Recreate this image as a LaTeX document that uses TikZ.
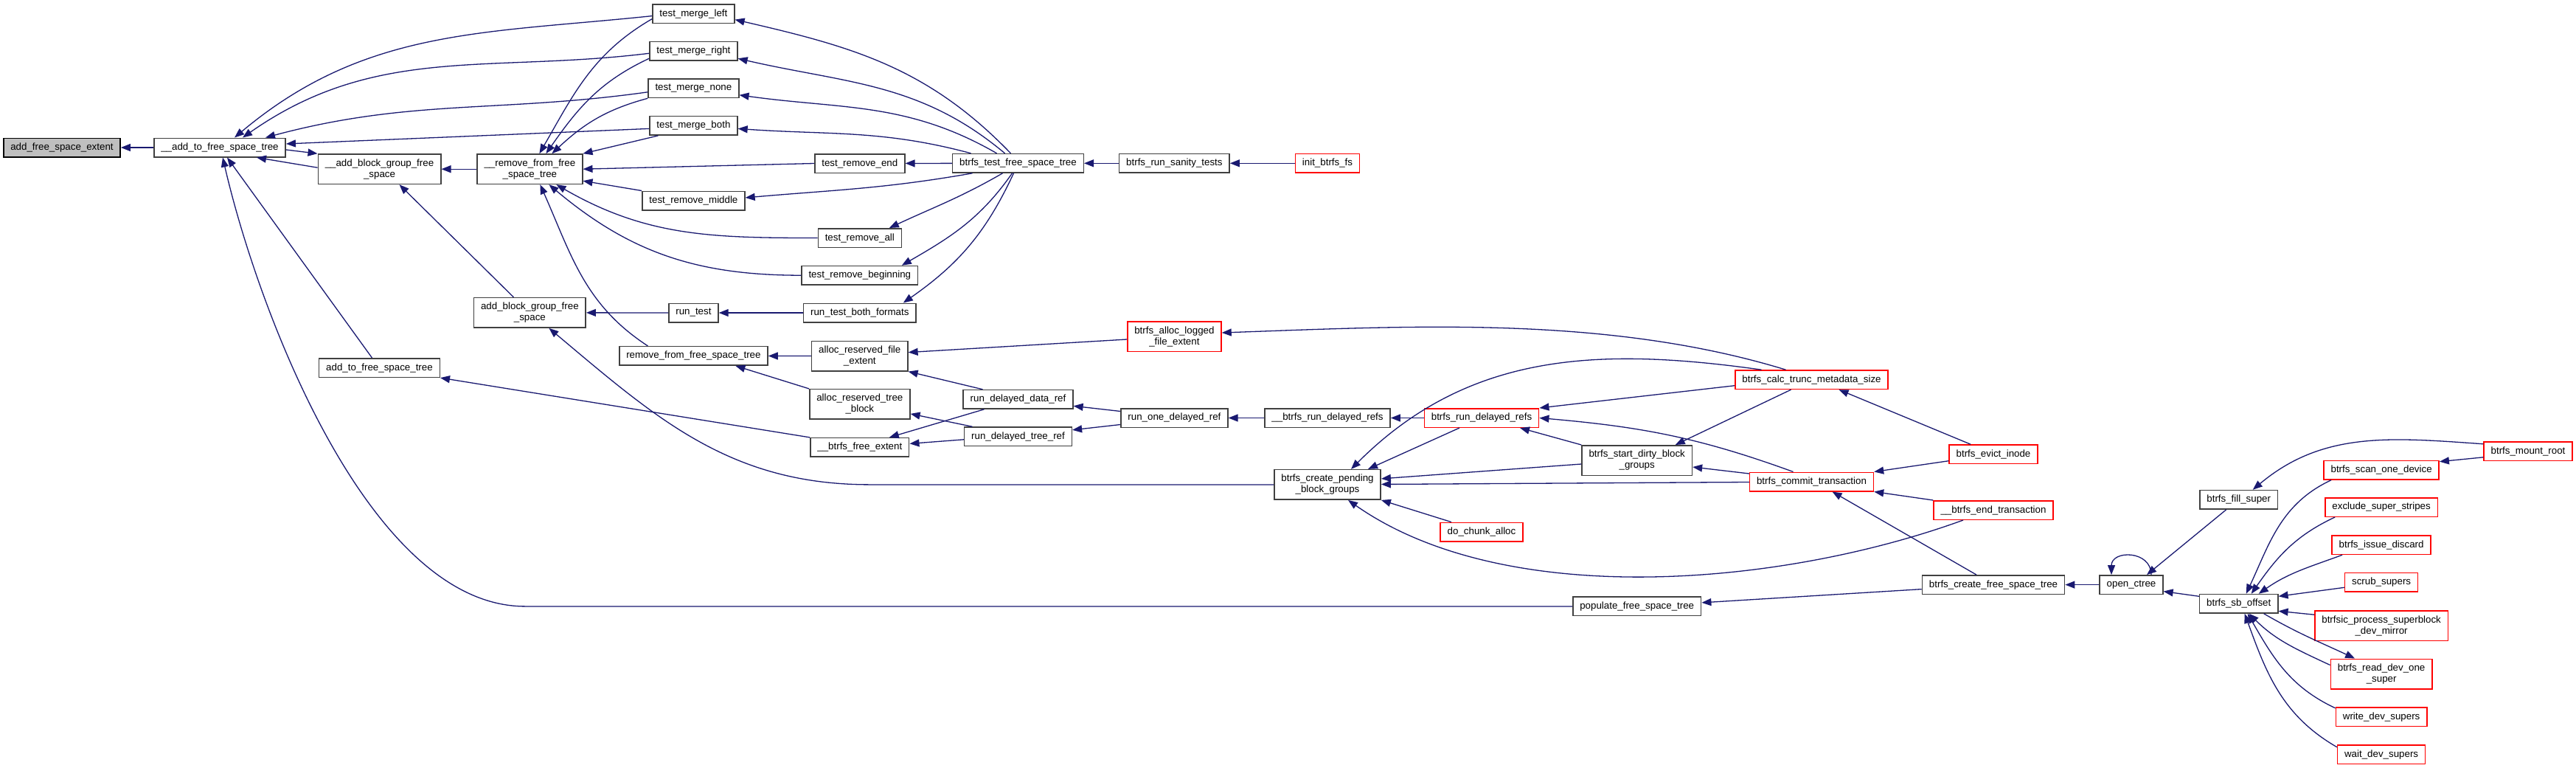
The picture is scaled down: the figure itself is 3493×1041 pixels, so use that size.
\documentclass[tikz,border=0pt]{standalone}
\usepackage{fontspec}
\setmainfont{Liberation Sans}
\usetikzlibrary{arrows.meta}
\definecolor{DoxEdge}{RGB}{25,25,112}
\definecolor{DoxLine}{RGB}{64,64,64}
\definecolor{DoxRed}{RGB}{255,0,0}
\definecolor{DoxRoot}{RGB}{191,191,191}

\begin{document}
\begin{tikzpicture}[x=1pt, y=1pt,
          fn/.style={rectangle, draw=DoxLine, line width=1.5pt, fill=white,
                     minimum height=25.5pt, inner xsep=9.5pt, inner ysep=1pt,
                     align=center, font=\fontsize{13.33}{15}\selectfont},
          fn2/.style={fn, minimum height=40.5pt},
          fnred/.style={fn, draw=DoxRed},
          fnred2/.style={fn2, draw=DoxRed},
          fnroot/.style={fn, draw=black, fill=DoxRoot},
          call/.style={-{Triangle[length=13pt,width=10pt]}, draw=DoxEdge, line width=1.3pt}
        ]
        \useasboundingbox (0,0) rectangle (3493,-1041);

        % free-space-tree side
        \node[fnroot] (afse) at (84,-200) {add\_free\_space\_extent};
        \node[fn]  (aft)  at (298,-200) {\_\_add\_to\_free\_space\_tree};
        \node[fn2] (abg)  at (514.5,-229.2) {\_\_add\_block\_group\_free\\\_space};
        \node[fn]  (atf)  at (514.5,-498.6) {add\_to\_free\_space\_tree};
        \node[fn2] (rmf)  at (718.4,-229.2) {\_\_remove\_from\_free\\\_space\_tree};
        \node[fn2] (abgf) at (718.4,-423.8) {add\_block\_group\_free\\\_space};
        \node[fn]  (tml)  at (940.4,-18.6) {test\_merge\_left};
        \node[fn]  (tmr)  at (940.4,-69.3) {test\_merge\_right};
        \node[fn]  (tmn)  at (940.4,-119.8) {test\_merge\_none};
        \node[fn]  (tmb)  at (940.4,-170.4) {test\_merge\_both};
        \node[fn]  (trm)  at (940.4,-272) {test\_remove\_middle};
        \node[fn]  (rt)   at (940.4,-424) {run\_test};
        \node[fn]  (rffst) at (940.4,-482.4) {remove\_from\_free\_space\_tree};
        \node[fn]  (tre)  at (1165.8,-221.5) {test\_remove\_end};
        \node[fn]  (tra)  at (1165.8,-322.5) {test\_remove\_all};
        \node[fn]  (trb)  at (1165.8,-373.2) {test\_remove\_beginning};
        \node[fn]  (rtbf) at (1165.8,-424) {run\_test\_both\_formats};
        \node[fn2] (arfe) at (1165.8,-482.6) {alloc\_reserved\_file\\\_extent};
        \node[fn2] (artb) at (1165.8,-547.9) {alloc\_reserved\_tree\\\_block};
        \node[fn]  (bfe)  at (1165.8,-606.4) {\_\_btrfs\_free\_extent};

        % tests and delayed refs
        \node[fn]  (btfst) at (1380.5,-221.3) {btrfs\_test\_free\_space\_tree};
        \node[fn]  (rddr) at (1380.5,-541.3) {run\_delayed\_data\_ref};
        \node[fn]  (rdtr) at (1380.5,-591.8) {run\_delayed\_tree\_ref};
        \node[fn]  (rst)  at (1592.4,-221.3) {btrfs\_run\_sanity\_tests};
        \node[fnred2] (alfe) at (1592.4,-456) {btrfs\_alloc\_logged\\\_file\_extent};
        \node[fn]  (rodr) at (1592.4,-566.5) {run\_one\_delayed\_ref};
        \node[fnred] (ibf) at (1800,-221.3) {init\_btrfs\_fs};
        \node[fn]  (ubrdr) at (1800,-566.5) {\_\_btrfs\_run\_delayed\_refs};
        \node[fn2] (cpbg) at (1800,-656.9) {btrfs\_create\_pending\\\_block\_groups};
        \node[fnred] (brdr) at (2009,-566.5) {btrfs\_run\_delayed\_refs};
        \node[fnred] (dca) at (2009,-721.1) {do\_chunk\_alloc};
        \node[fn2] (sdbg) at (2219.7,-624) {btrfs\_start\_dirty\_block\\\_groups};
        \node[fn]  (pfst) at (2219.7,-821.9) {populate\_free\_space\_tree};

        % transactions
        \node[fnred] (ctms) at (2456.5,-514.7) {btrfs\_calc\_trunc\_metadata\_size};
        \node[fnred] (ctr) at (2456.5,-653) {btrfs\_commit\_transaction};
        \node[fnred] (evi) at (2703,-615.7) {btrfs\_evict\_inode};
        \node[fnred] (etr) at (2703,-691.5) {\_\_btrfs\_end\_transaction};
        \node[fn]  (cfst) at (2703,-792.6) {btrfs\_create\_free\_space\_tree};

        % mount and super blocks
        \node[fn]  (oct)  at (2890,-792.6) {open\_ctree};
        \node[fn]  (fsup) at (3035.7,-677.3) {btrfs\_fill\_super};
        \node[fn]  (sbo)  at (3035.7,-818.3) {btrfs\_sb\_offset};
        \node[fnred] (sod) at (3229.1,-637.2) {btrfs\_scan\_one\_device};
        \node[fnred] (ess) at (3229.1,-687.5) {exclude\_super\_stripes};
        \node[fnred] (isd) at (3229.1,-738.7) {btrfs\_issue\_discard};
        \node[fnred] (scs) at (3229.1,-789.3) {scrub\_supers};
        \node[fnred2] (psb) at (3229.1,-848.2) {btrfsic\_process\_superblock\\\_dev\_mirror};
        \node[fnred2] (rdos) at (3229.1,-913.5) {btrfs\_read\_dev\_one\\\_super};
        \node[fnred] (wrds) at (3229.1,-971.8) {write\_dev\_supers};
        \node[fnred] (wtds) at (3229.1,-1022.7) {wait\_dev\_supers};
        \node[fnred] (mrt) at (3428,-611.8) {btrfs\_mount\_root};

        % calls into the left part
        \draw[call] (aft) -- (afse);
        \draw[call] ([yshift=-3]tml.west) to[out=186,in=40] ([xshift=20]aft.north);
        \draw[call] ([yshift=-3]tmr.west) to[out=187,in=35] ([xshift=31]aft.north);
        \draw[call] ([yshift=-5]tmn.west) to[out=188,in=15] ([xshift=62]aft.north);
        \draw[call] ([yshift=-4]tmb.west) -- ([yshift=5]aft.east);
        \draw[call] ([yshift=2]abg.west) -- ([xshift=50]aft.south);
        \draw[call] ([yshift=-3]aft.east) -- (abg.north west);
        \draw[call] ([xshift=-10]atf.north) -- ([xshift=10]aft.south);
        \draw[call] (pfst.west) -- ([xshift=-1420]pfst.west)
              to[out=180,in=-77,looseness=0.74] ([xshift=4]aft.south);
        \draw[call] ([xshift=-22]abgf.north) -- ([xshift=27]abg.south);
        \draw[call] (rmf) -- (abg);
        \draw[call] ([yshift=-7]tml.west) to[out=210,in=60] ([xshift=13]rmf.north);
        \draw[call] ([yshift=-10]tmr.west) to[out=205,in=55] ([xshift=22]rmf.north);
        \draw[call] (tmn.south west) to[out=195,in=43] ([xshift=30]rmf.north);
        \draw[call] ([xshift=-48]tmb.south) -- (rmf.north east);
        \draw[call] (tre.west) -- (rmf.east);
        \draw[call] (trm.north west) -- ([yshift=-16]rmf.east);
        \draw[call] (tra.west) to[out=180,in=-30] ([xshift=36]rmf.south);
        \draw[call] (trb.west) to[out=180,in=-40] ([xshift=26]rmf.south);
        \draw[call] ([xshift=-62]rffst.north) to[out=147,in=-66] ([xshift=14]rmf.south);
        \draw[call] (rt) -- (abgf);
        \draw[call] (rtbf) -- (rt);
        \draw[call] (arfe) -- (rffst);
        \draw[call] (artb.north west) -- ([xshift=57]rffst.south);
        \draw[call] (bfe.north west) -- (atf.south east);
        \draw[call] (cpbg.west) -- ([xshift=-548]cpbg.west)
              to[out=180,in=-40] ([xshift=26]abgf.south);

        % test driver
        \draw[call] (rst) -- (btfst);
        \draw[call] (ibf) -- (rst);
        \draw[call] ([xshift=-10]btfst.north) to[out=134,in=-13] ([yshift=-8]tml.east);
        \draw[call] ([xshift=-18]btfst.north) to[out=140,in=-13] ([yshift=-10]tmr.east);
        \draw[call] ([xshift=-29]btfst.north) to[out=150,in=-8] ([yshift=-9]tmn.east);
        \draw[call] ([xshift=-64]btfst.north) to[out=165,in=-4] ([yshift=-4]tmb.east);
        \draw[call] (btfst) -- (tre);
        \draw[call] ([xshift=-62]btfst.south) to[out=190,in=5] ([yshift=4]trm.east);
        \draw[call] ([xshift=-21]btfst.south) to[out=210,in=25] ([xshift=40]tra.north);
        \draw[call] ([xshift=-8]btfst.south) to[out=235,in=30] ([xshift=57]trb.north);
        \draw[call] ([xshift=-6]btfst.south) to[out=245,in=35] ([xshift=59]rtbf.north);

        % delayed refs
        \draw[call] ([yshift=-4]alfe.west) -- ([yshift=5]arfe.east);
        \draw[call] ([xshift=-48]rddr.north) -- (arfe.south east);
        \draw[call] ([xshift=-62]rdtr.north) -- ([yshift=-13]artb.east);
        \draw[call] ([xshift=-46]rddr.south) -- ([xshift=40]bfe.north);
        \draw[call] ([yshift=-4]rdtr.west) -- ([yshift=5]bfe.east);
        \draw[call] ([yshift=9]rodr.west) -- ([yshift=-9]rddr.east);
        \draw[call] ([yshift=-9]rodr.west) -- ([yshift=9]rdtr.east);
        \draw[call] (ubrdr) -- (rodr);
        \draw[call] (brdr) -- (ubrdr);

        % transactions
        \draw[call] ([xshift=-35]ctms.north) to[out=163,in=2,looseness=0.85] ([yshift=5]alfe.east);
        \draw[call] ([xshift=-68]ctms.north) to[out=172,in=45] ([xshift=32]cpbg.north);
        \draw[call] ([yshift=-8]ctms.west) -- (brdr.north east);
        \draw[call] ([xshift=-28]ctms.south) -- ([xshift=52]sdbg.north);
        \draw[call] ([xshift=-31]evi.north) -- ([xshift=37]ctms.south);
        \draw[call] ([xshift=-25]ctr.north) to[out=160,in=-5] (brdr.east);
        \draw[call] ([yshift=11]ctr.west) -- ([yshift=-9]sdbg.east);
        \draw[call] (ctr) -- (cpbg);
        \draw[call] ([yshift=-5]sdbg.west) -- ([yshift=8]cpbg.east);
        \draw[call] (sdbg.north west) -- ([xshift=52]brdr.south);
        \draw[call] ([xshift=-30]brdr.south) -- ([xshift=55]cpbg.north);
        \draw[call] ([xshift=-41]dca.north) -- (cpbg.south east);
        \draw[call] ([xshift=-41]etr.south) to[out=200,in=-35,looseness=0.8] ([xshift=28]cpbg.south);
        \draw[call] ([yshift=-9]evi.west) -- (ctr.north east);
        \draw[call] (etr.north west) -- (ctr.south east);
        \draw[call] ([xshift=-23]cfst.north) -- ([xshift=28]ctr.south);
        \draw[call] ([yshift=-6]cfst.west) -- ([yshift=5]pfst.east);

        % mount and super blocks
        \draw[call] (oct) -- (cfst);
        \draw[call] ([xshift=27]oct.north) to[out=90,in=90,looseness=1.6] ([xshift=-27]oct.north);
        \draw[call] ([xshift=-17]fsup.south) -- ([xshift=21]oct.north);
        \draw[call] ([yshift=10]sbo.west) -- ([yshift=-9]oct.east);
        \draw[call] ([yshift=10]mrt.west) to[out=176,in=40] ([xshift=19]fsup.north);
        \draw[call] ([yshift=-8]mrt.west) -- ([yshift=-2]sod.north east);
        \draw[call] ([xshift=-68]sod.south) to[out=205,in=65] ([xshift=10]sbo.north);
        \draw[call] ([xshift=-63]ess.south) to[out=205,in=55] ([xshift=17]sbo.north);
        \draw[call] ([xshift=-53]isd.south) to[out=200,in=35] ([xshift=27]sbo.north);
        \draw[call] ([yshift=-7]scs.west) -- ([yshift=10]sbo.east);
        \draw[call] ([yshift=15]psb.west) -- ([yshift=-10]sbo.east);
        \draw[call] ([xshift=34]sbo.south) to[out=-30,in=155] ([xshift=-36]rdos.north);
        \draw[call] ([yshift=12]rdos.west) to[out=155,in=-45] ([xshift=14]sbo.south);
        \draw[call] ([yshift=12]wrds.west) to[out=155,in=-60] ([xshift=12]sbo.south);
        \draw[call] ([yshift=10]wtds.west) to[out=150,in=-70] ([xshift=8]sbo.south);
      \end{tikzpicture}
\end{document}
